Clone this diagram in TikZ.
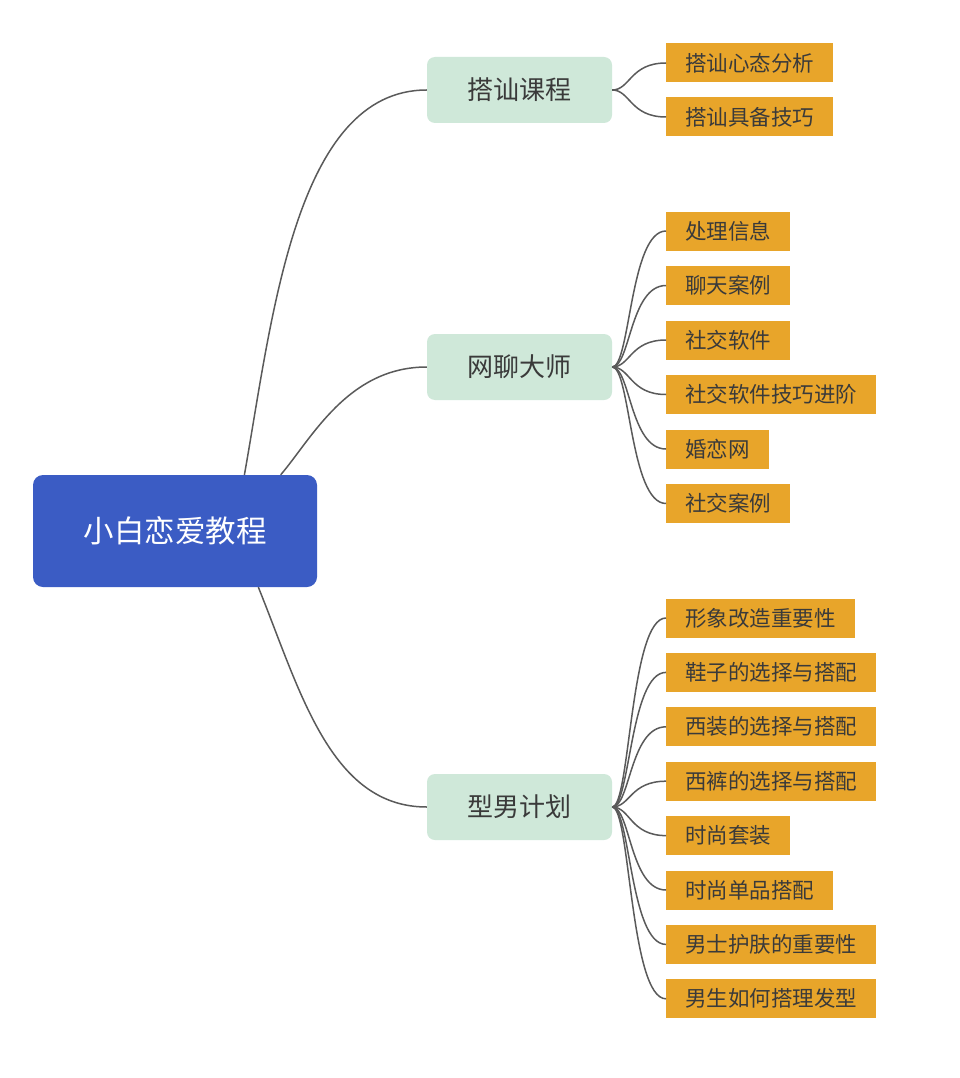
\documentclass[tikz,border=0pt]{standalone}
\usepackage{fontspec}
\setmainfont{Noto Sans CJK SC}
\definecolor{rootblue}{HTML}{3B5CC4}
\definecolor{mint}{HTML}{CFE8D9}
\definecolor{leaforange}{HTML}{E8A52A}
\definecolor{txtgray}{HTML}{3A3A3A}
\definecolor{linegray}{HTML}{5A5A5A}
\tikzset{
  rootbox/.style={fill=rootblue, text=white, rounded corners=10pt, minimum width=284pt, minimum height=112pt, inner sep=0pt, font=\fontsize{30.5}{36}\selectfont},
  branchbox/.style={fill=mint, text=txtgray, rounded corners=8pt, minimum width=185pt, minimum height=66pt, inner sep=0pt, font=\fontsize{26}{31}\selectfont},
  leafbox/.style={fill=leaforange, text=txtgray, anchor=west, minimum height=39pt, inner xsep=19pt, inner ysep=0pt, font=\fontsize{21.5}{26}\selectfont},
  link/.style={draw=linegray, line width=1.5pt},
}
\begin{document}
\begin{tikzpicture}[x=1pt,y=-1pt]
\useasboundingbox (0,0) rectangle (960,1078);
\fill[white] (0,0) rectangle (960,1078);

\node[rootbox] (root) at (175,531) {小白恋爱教程};

\node[branchbox] (b1) at (519.5,90) {搭讪课程};
\node[branchbox] (b2) at (519.5,367) {网聊大师};
\node[branchbox] (b3) at (519.5,807) {型男计划};

% leaves of b1
\node[leafbox] (l11) at (666,63) {搭讪心态分析};
\node[leafbox] (l12) at (666,117) {搭讪具备技巧};

% leaves of b2
\node[leafbox] (l21) at (666,231) {处理信息};
\node[leafbox] (l22) at (666,285.5) {聊天案例};
\node[leafbox] (l23) at (666,340) {社交软件};
\node[leafbox] (l24) at (666,394.5) {社交软件技巧进阶};
\node[leafbox] (l25) at (666,449) {婚恋网};
\node[leafbox] (l26) at (666,503.5) {社交案例};

% leaves of b3
\node[leafbox] (l31) at (666,618) {形象改造重要性};
\node[leafbox] (l32) at (666,672.4) {鞋子的选择与搭配};
\node[leafbox] (l33) at (666,726.8) {西装的选择与搭配};
\node[leafbox] (l34) at (666,781.2) {西裤的选择与搭配};
\node[leafbox] (l35) at (666,835.6) {时尚套装};
\node[leafbox] (l36) at (666,890) {时尚单品搭配};
\node[leafbox] (l37) at (666,944.4) {男士护肤的重要性};
\node[leafbox] (l38) at (666,998.8) {男生如何搭理发型};

% root to branches
\draw[link] (root.39.5) .. controls (272,320) and (295,90) .. (b1.west);
\draw[link] (root.28) .. controls (312,438) and (348,367) .. (b2.west);
\draw[link] (root.-34.3) .. controls (300,690) and (330,807) .. (b3.west);

% branches to leaves
\foreach \l in {l11,l12}
  \draw[link] (b1.east) .. controls +(18,0) and +(-36,0) .. (\l.west);
\foreach \l in {l21,l22,l23,l24,l25,l26}
  \draw[link] (b2.east) .. controls +(18,0) and +(-36,0) .. (\l.west);
\foreach \l in {l31,l32,l33,l34,l35,l36,l37,l38}
  \draw[link] (b3.east) .. controls +(18,0) and +(-36,0) .. (\l.west);
\end{tikzpicture}
\end{document}
